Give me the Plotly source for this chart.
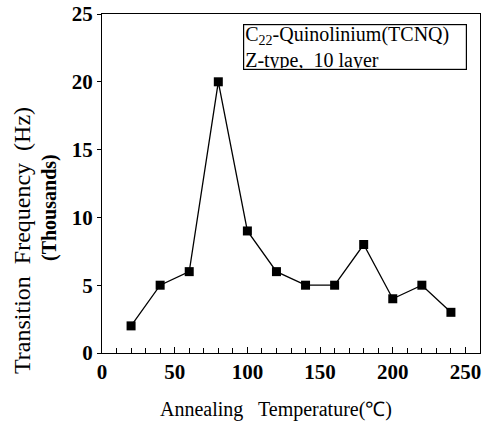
import plotly.graph_objects as go

temps = [20, 40, 60, 80, 100, 120, 140, 160, 180, 200, 220, 240]
freq = [2, 5, 6, 20, 9, 6, 5, 5, 8, 4, 5, 3]
x_ticks = [0, 50, 100, 150, 200, 250]
y_ticks = [0, 5, 10, 15, 20, 25]

SERIF = "Liberation Serif, Times New Roman, serif"
L, R, T, B = 102, 3, 14, 71
PW, PH = 483 - L - R, 424 - T - B


def px_x(px):
    return (px - L) / PW


def px_y(py):
    return (424 - B - py) / PH


fig = go.Figure()
fig.add_trace(go.Scatter(
    x=temps, y=freq, mode="lines+markers",
    line=dict(color="black", width=1.3),
    marker=dict(symbol="square", size=9, color="black"),
    showlegend=False,
))

tickfont = dict(family=SERIF, size=21, color="black", weight="bold")
fig.update_layout(
    width=483, height=424,
    margin=dict(l=L, r=R, t=T, b=B),
    paper_bgcolor="white", plot_bgcolor="white",
    xaxis=dict(
        range=[0, 260], tickvals=x_ticks, ticks="inside", ticklen=6,
        tickcolor="black", showline=True, linecolor="black", linewidth=1.2,
        mirror=True, showgrid=False, zeroline=False,
        tickfont=tickfont, automargin=False, ticklabeloverflow="allow",
        minor=dict(tick0=0, dtick=10, ticks="inside", ticklen=5, tickcolor="black"),
    ),
    yaxis=dict(
        range=[0, 25], tickvals=y_ticks, ticks="outside", ticklen=4,
        tickcolor="black", showline=True, linecolor="black", linewidth=1.2,
        mirror=True, showgrid=False, zeroline=False,
        tickfont=tickfont, automargin=False, ticklabeloverflow="allow",
    ),
    font=dict(family=SERIF, color="black"),
)

fig.add_annotation(
    text="Transition  Frequency  (Hz)", xref="paper", yref="paper",
    x=px_x(22), y=px_y(241), textangle=-90,
    showarrow=False, font=dict(family=SERIF, size=24),
    xanchor="center", yanchor="middle",
)
fig.add_annotation(
    text="<b>(Thousands)</b>", xref="paper", yref="paper",
    x=px_x(49), y=px_y(208), textangle=-90,
    showarrow=False, font=dict(family=SERIF, size=20),
    xanchor="center", yanchor="middle",
)
fig.add_annotation(
    text="Annealing   Temperature(℃)", xref="paper", yref="paper",
    x=px_x(276), y=px_y(409),
    showarrow=False, font=dict(family=SERIF, size=20),
    xanchor="center", yanchor="middle",
)
fig.add_annotation(
    text="C<sub>22</sub>-Quinolinium(TCNQ)<br>Z-type,  10 layer",
    xref="paper", yref="paper",
    x=px_x(243), y=px_y(24), xanchor="left", yanchor="top",
    showarrow=False, align="left", width=220, height=42,
    bordercolor="black", borderwidth=1.2, borderpad=1, bgcolor="white",
    font=dict(family=SERIF, size=20),
)

fig.write_html("out.html", config={"displayModeBar": False})
with open("out.html", encoding="utf-8") as f:
    html = f.read()
html = html.replace("<head>", "<head><style>html,body{margin:0;padding:0;overflow:hidden;}</style>", 1)
with open("out.html", "w", encoding="utf-8") as f:
    f.write(html)
